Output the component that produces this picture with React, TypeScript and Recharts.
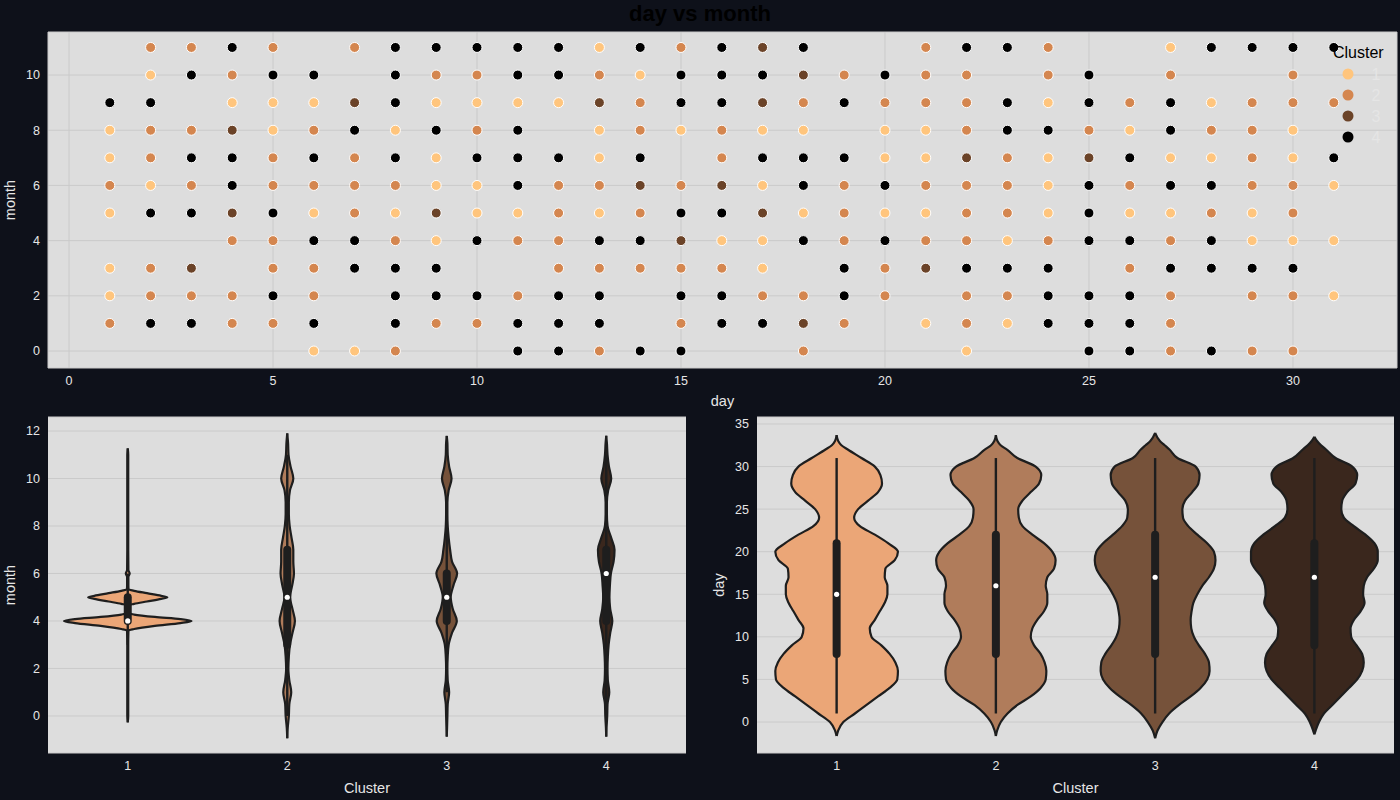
import React from 'react';
import {
  Area,
  CartesianGrid,
  ComposedChart,
  Label,
  Legend,
  ReferenceDot,
  ReferenceLine,
  Scatter,
  ScatterChart,
  XAxis,
  YAxis,
} from 'recharts';

const clusterNames = ['1', '2', '3', '4'];
const dotColors = ['#ffc57d', '#d4864f', '#6b4328', '#000000'];
const violinColors = ['#eba677', '#b07c5b', '#76523a', '#3a271d'];

// top panel: one string per month (0..11), one char per day (1..31).
// the char is the cluster of that day/month, '.' means nothing there
const monthRows = [
  '..... 112.. 44244 ..2.. .1..4 42422 .',
  '24422 4.422 444.2 4432. 12144 42... .',
  '12224 2.444 244.4 42242 .2244 42.22 1',
  '123.2 2444. .2222 21.42 3444. 24444 .',
  '...22 44214 22443 11424 22124 42411 1',
  '14434 12131 12124 43121 12214 11212 .',
  '21242 22211 42232 31424 22214 24422 1',
  '12442 42414 4414. 24441 13213 41121 4',
  '12231 24142 4.121 211.1 12442 14221 .',
  '44.11 13411 11324 43242 22414 24122 2',
  '.1424 4.422 44214 44324 22.24 .2..2 .',
  '.2242 .2444 44142 434.. 2442. .1444 4',
];

const dayTicks = [0, 5, 10, 15, 20, 25, 30];
const monthTicksTop = [0, 2, 4, 6, 8, 10];
const monthTicks = [0, 2, 4, 6, 8, 10, 12];
const dayTicksViolin = [0, 5, 10, 15, 20, 25, 30, 35];
const clusterTicks = [1, 2, 3, 4];

// violin half widths (in cluster units)
const monthLevels = [-0.5, 0, 0.5, 1, 1.5, 2, 2.5, 3, 3.5, 4, 4.5, 5, 5.5, 6, 6.5, 7, 7.5, 8, 8.5, 9, 9.5, 10, 10.5, 11, 11.5];
const month1Levels = [0, 1, 2, 3, 3.5, 3.6, 3.66, 3.79, 3.91, 4, 4.08, 4.17, 4.27, 4.33, 4.5, 4.66, 4.72, 4.82, 4.93, 5, 5.06, 5.17, 5.27, 5.33, 5.5, 5.85, 6, 6.15, 7, 8, 9, 10, 11];
const month1Width = [0.003, 0.003, 0.003, 0.003, 0.004, 0.005, 0.04, 0.17, 0.33, 0.4, 0.33, 0.17, 0.04, 0.005, 0.004, 0.005, 0.04, 0.12, 0.21, 0.248, 0.21, 0.12, 0.04, 0.005, 0.004, 0.004, 0.012, 0.004, 0.003, 0.003, 0.003, 0.003, 0.003];
const month2Width = [0.003, 0.01, 0.013, 0.025, 0.013, 0.007, 0.01, 0.017, 0.033, 0.048, 0.033, 0.017, 0.031, 0.042, 0.038, 0.038, 0.027, 0.015, 0.01, 0.01, 0.017, 0.038, 0.021, 0.008, 0.005];
const month3Width = [0.002, 0.004, 0.006, 0.015, 0.006, 0.004, 0.006, 0.012, 0.033, 0.063, 0.038, 0.025, 0.042, 0.065, 0.033, 0.021, 0.012, 0.006, 0.004, 0.004, 0.012, 0.03, 0.015, 0.006, 0.004];
const month4Width = [0.002, 0.006, 0.008, 0.019, 0.01, 0.008, 0.01, 0.015, 0.025, 0.038, 0.025, 0.019, 0.023, 0.029, 0.046, 0.052, 0.031, 0.008, 0.004, 0.004, 0.012, 0.031, 0.017, 0.008, 0.004];
const monthTipLow = [-0.27, -0.94, -0.87, -0.87];
const monthTipHigh = [11.27, 11.9, 11.8, 11.8];
const monthQ1 = [4, 3, 4, 4];
const monthQ3 = [5, 7, 6, 7];
const monthMedian = [4, 5, 5, 6];
const monthWhiskerLow = [3, 0, 1, 0];
const monthWhiskerHigh = [6, 11, 9, 11];

// day violins
const dayLevels = [-1, 0, 1, 2, 3, 4, 5, 6, 7, 8, 9, 10, 11, 12, 13, 14, 15, 16, 17, 18, 19, 20, 21, 22, 23, 24, 25, 26, 27, 28, 29, 30, 31, 32, 32.5, 33];
const day1Width = [0.01, 0.042, 0.115, 0.188, 0.26, 0.333, 0.381, 0.385, 0.369, 0.333, 0.281, 0.219, 0.208, 0.24, 0.271, 0.302, 0.319, 0.319, 0.302, 0.306, 0.365, 0.385, 0.323, 0.24, 0.146, 0.11, 0.135, 0.198, 0.26, 0.285, 0.275, 0.24, 0.156, 0.07, 0.03, 0.01];
const day2Width = [0.008, 0.031, 0.073, 0.135, 0.219, 0.281, 0.313, 0.317, 0.306, 0.281, 0.24, 0.219, 0.229, 0.26, 0.302, 0.323, 0.323, 0.313, 0.323, 0.365, 0.375, 0.354, 0.302, 0.229, 0.167, 0.144, 0.14, 0.167, 0.219, 0.271, 0.285, 0.25, 0.135, 0.07, 0.03, 0.01];
const day3Width = [0.015, 0.046, 0.088, 0.15, 0.223, 0.285, 0.327, 0.342, 0.338, 0.313, 0.275, 0.244, 0.227, 0.223, 0.229, 0.24, 0.265, 0.296, 0.338, 0.369, 0.379, 0.369, 0.327, 0.265, 0.208, 0.175, 0.171, 0.188, 0.233, 0.271, 0.279, 0.254, 0.14, 0.09, 0.06, 0.03];
const day4Width = [0.008, 0.029, 0.06, 0.113, 0.165, 0.217, 0.269, 0.3, 0.31, 0.3, 0.265, 0.231, 0.227, 0.248, 0.29, 0.315, 0.306, 0.31, 0.331, 0.373, 0.398, 0.398, 0.377, 0.321, 0.248, 0.185, 0.169, 0.175, 0.206, 0.258, 0.269, 0.238, 0.133, 0.073, 0.042, 0.017];
const dayTipLow = [-1.65, -1.65, -1.9, -1.45];
const dayTipHigh = [33.7, 33.7, 33.96, 33.5];
const dayQ1 = [8, 8, 8, 9];
const dayQ3 = [21, 22, 22, 21];
const dayMedian = [15, 16, 17, 17];
const dayWhiskerLow = [1, 1, 1, 1];
const dayWhiskerHigh = [31, 31, 31, 31];

const textColor = '#e6e6e6';
const tickStyle = { fill: textColor, fontSize: 12.5 };
const lineColor = '#1e1e1e';

const clusterPoints = clusterNames.map((c) =>
  monthRows.flatMap((row, month) =>
    row
      .replace(/ /g, '')
      .split('')
      .map((ch, i) => (ch === c ? { day: i + 1, month } : null))
      .filter((p): p is { day: number; month: number } => p !== null),
  ),
);

function violinRows(center: number, levels: number[], widths: number[], lo: number, hi: number) {
  return [
    { y: lo, band: [center, center] },
    ...levels.map((y, i) => ({ y, band: [center - widths[i], center + widths[i]] })),
    { y: hi, band: [center, center] },
  ];
}

const monthViolins = [
  violinRows(1, month1Levels, month1Width, monthTipLow[0], monthTipHigh[0]),
  violinRows(2, monthLevels, month2Width, monthTipLow[1], monthTipHigh[1]),
  violinRows(3, monthLevels, month3Width, monthTipLow[2], monthTipHigh[2]),
  violinRows(4, monthLevels, month4Width, monthTipLow[3], monthTipHigh[3]),
];

const dayViolins = [day1Width, day2Width, day3Width, day4Width].map((w, i) =>
  violinRows(i + 1, dayLevels, w, dayTipLow[i], dayTipHigh[i]),
);

function SideLabel(props: any) {
  const { viewBox, value, lx } = props;
  const cy = viewBox.y + viewBox.height / 2;
  return (
    <text
      x={lx}
      y={cy}
      transform={`rotate(-90 ${lx} ${cy})`}
      textAnchor="middle"
      dominantBaseline="central"
      fill={textColor}
      fontSize={14.5}
    >
      {value}
    </text>
  );
}

function ClusterLegend() {
  return (
    <svg width={80} height={110} style={{ overflow: 'visible' }}>
      <text x={8} y={12} dominantBaseline="central" fontSize={16} fill="#000">
        Cluster
      </text>
      {clusterNames.map((n, i) => (
        <g key={n}>
          <circle cx={23} cy={34 + i * 21} r={5.5} fill={dotColors[i]} />
          <text
            x={51}
            y={34 + i * 21}
            textAnchor="middle"
            dominantBaseline="central"
            fontSize={16}
            fill="#e5e5e5"
          >
            {n}
          </text>
        </g>
      ))}
    </svg>
  );
}

function ViolinPanel({
  violins,
  q1,
  q3,
  median,
  wlo,
  whi,
  domain,
  ticks,
  label,
  yWidth,
  right,
  labelX,
}: {
  violins: { y: number; band: number[] }[][];
  q1: number[];
  q3: number[];
  median: number[];
  wlo: number[];
  whi: number[];
  domain: [number, number];
  ticks: number[];
  label: string;
  yWidth: number;
  right: number;
  labelX: number;
}) {
  return (
    <ComposedChart
      width={700}
      height={395}
      layout="vertical"
      margin={{ top: 12, right, bottom: 0, left: 0 }}
    >
      <CartesianGrid fill="#dddddd" stroke="#cacaca" vertical={false} />
      <XAxis
        type="number"
        domain={[0.5, 4.5]}
        ticks={clusterTicks}
        allowDataOverflow
        axisLine={false}
        tickLine={false}
        tick={tickStyle}
        height={47}
      >
        <Label value="Cluster" position="insideBottom" offset={7} fill={textColor} fontSize={14.5} />
      </XAxis>
      <YAxis
        type="number"
        dataKey="y"
        domain={domain}
        ticks={ticks}
        allowDataOverflow
        reversed
        axisLine={false}
        tickLine={false}
        tick={tickStyle}
        width={yWidth}
      >
        <Label content={<SideLabel lx={labelX} />} value={label} />
      </YAxis>
      {violins.map((rows, i) => (
        <Area
          key={`v${i}`}
          data={rows}
          dataKey="band"
          type="monotone"
          fill={violinColors[i]}
          fillOpacity={1}
          stroke={lineColor}
          strokeWidth={2.2}
          dot={false}
          activeDot={false}
          isAnimationActive={false}
        />
      ))}
      {clusterTicks.map((c, i) => (
        <ReferenceLine
          key={`w${c}`}
          segment={[
            { x: c, y: wlo[i] },
            { x: c, y: whi[i] },
          ]}
          stroke={lineColor}
          strokeWidth={2.4}
        />
      ))}
      {clusterTicks.map((c, i) => (
        <ReferenceLine
          key={`b${c}`}
          segment={[
            { x: c, y: q1[i] },
            { x: c, y: q3[i] },
          ]}
          stroke={lineColor}
          strokeWidth={8}
          strokeLinecap="round"
        />
      ))}
      {clusterTicks.map((c, i) => (
        <ReferenceDot key={`m${c}`} x={c} y={median[i]} r={2.6} fill="#ffffff" stroke="none" />
      ))}
    </ComposedChart>
  );
}

export default function App() {
  return (
    <div
      style={{
        position: 'absolute',
        left: 0,
        top: 0,
        width: 1400,
        height: 800,
        background: '#0e111a',
        fontFamily: '"Liberation Sans", Arial, sans-serif',
        overflow: 'hidden',
      }}
    >
      <div style={{ position: 'absolute', left: 0, top: 0, width: 1400 }}>
        <ScatterChart width={1400} height={415} margin={{ top: 32, right: 3, bottom: 0, left: 0 }}>
          <CartesianGrid fill="#dddddd" stroke="#cacaca" />
          <XAxis
            type="number"
            dataKey="day"
            domain={[-0.515, 32.55]}
            ticks={dayTicks}
            allowDataOverflow
            axisLine={false}
            tickLine={false}
            tick={tickStyle}
            height={47}
          >
            <Label value="day" position="insideBottom" offset={9} fill={textColor} fontSize={14.5} />
          </XAxis>
          <YAxis
            type="number"
            dataKey="month"
            domain={[-0.616, 11.56]}
            ticks={monthTicksTop}
            allowDataOverflow
            axisLine={false}
            tickLine={false}
            tick={tickStyle}
            width={48}
          >
            <Label content={<SideLabel lx={10} />} value="month" />
          </YAxis>
          {clusterNames.map((c, i) => (
            <Scatter
              key={c}
              name={c}
              data={clusterPoints[i]}
              fill={dotColors[i]}
              isAnimationActive={false}
              shape={(p: any) => (
                <circle cx={p.cx} cy={p.cy} r={5} fill={dotColors[i]} stroke="#ffffff" strokeWidth={1} />
              )}
            />
          ))}
          <Legend
            content={<ClusterLegend />}
            layout="horizontal"
            verticalAlign="middle"
            align="center"
            wrapperStyle={{ left: 1325, top: 40, width: 80, height: 110 }}
          />
        </ScatterChart>
      </div>
      <div style={{ position: 'absolute', left: 0, top: 405 }}>
        <ViolinPanel
          violins={monthViolins}
          q1={monthQ1}
          q3={monthQ3}
          median={monthMedian}
          wlo={monthWhiskerLow}
          whi={monthWhiskerHigh}
          domain={[-1.56, 12.59]}
          ticks={monthTicks}
          label="month"
          yWidth={48}
          right={14}
          labelX={10}
        />
      </div>
      <div style={{ position: 'absolute', left: 700, top: 405 }}>
        <ViolinPanel
          violins={dayViolins}
          q1={dayQ1}
          q3={dayQ3}
          median={dayMedian}
          wlo={dayWhiskerLow}
          whi={dayWhiskerHigh}
          domain={[-3.64, 35.82]}
          ticks={dayTicksViolin}
          label="day"
          yWidth={57}
          right={6}
          labelX={19}
        />
      </div>
      <div
        style={{
          position: 'absolute',
          left: 0,
          top: 0,
          width: 1400,
          textAlign: 'center',
          fontSize: 22,
          fontWeight: 'bold',
          lineHeight: '27px',
          color: '#000000',
        }}
      >
        day vs month
      </div>
    </div>
  );
}
